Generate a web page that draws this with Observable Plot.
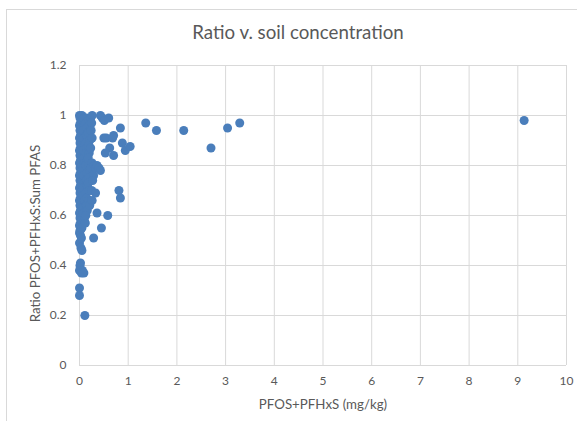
<!DOCTYPE html>
<html>
<head>
<meta charset="utf-8">
<script src="https://cdn.jsdelivr.net/npm/d3@7"></script>
<script src="https://cdn.jsdelivr.net/npm/@observablehq/plot@0.6"></script>
<style>
  html, body { margin: 0; padding: 0; background: #fff; }
  #wrap { position: relative; width: 577px; height: 421px; overflow: hidden; font-family: Lato, "Open Sans", sans-serif; }
  #frame { position: absolute; left: 6px; top: 9px; width: 600px; height: 450px; border: 1px solid #d9d9d9; box-sizing: border-box; }
  #title { position: absolute; left: 0; width: 596px; top: 21px; text-align: center; font-size: 18.7px; color: #595959; }
  #chart { position: absolute; left: 0; top: 0; }
</style>
</head>
<body>
<div id="wrap">
  <div id="frame"></div>
  <div id="chart"></div>
  <div id="title">Ratio v. soil concentration</div>
</div>
<script>
// PFOS+PFHxS (mg/kg)
const concentration = [
  0.00,0.01,0.02,0.00,0.01,0.02,0.00,0.01,0.02,0.00,0.01,0.02,0.00,0.01,0.02,0.00,0.01,0.02,0.00,0.01,
  0.02,0.00,0.01,0.02,0.00,0.01,0.02,0.00,0.01,0.00,0.02,0.00,0.03,0.02,0.01,0.00,0.00,0.00,
  0.05,0.06,0.04,0.05,0.06,0.04,0.05,0.06,0.04,0.05,0.06,0.04,0.05,0.06,0.04,0.05,0.06,0.04,0.05,0.04,
  0.05,0.06,0.04,
  0.09,0.10,0.08,0.09,0.10,0.08,0.09,0.10,0.08,0.09,0.10,0.08,0.09,0.10,0.08,0.09,0.10,0.12,0.09,0.11,
  0.14,0.13,0.15,0.14,0.13,0.15,0.14,0.16,0.13,0.15,0.14,0.16,0.13,0.15,0.14,0.16,0.13,
  0.19,0.20,0.18,0.21,0.19,0.20,0.18,0.19,0.21,0.19,0.18,0.20,0.19,0.21,
  0.23,0.26,0.25,0.24,0.26,0.23,0.26,0.24,0.29,0.27,0.26,0.25,
  0.30,0.33,0.36,0.40,0.43,0.29,0.33,0.36,0.45,0.58,0.81,0.84,
  0.43,0.47,0.51,0.60,0.50,0.55,0.70,0.68,0.62,0.53,0.70,0.84,0.88,0.94,1.04,
  1.36,1.58,2.14,2.70,3.04,3.29,9.13
];
// Ratio PFOS+PFHxS : Sum PFAS
const ratio = [
  1.00,0.99,0.97,0.96,0.94,0.92,0.91,0.89,0.87,0.86,0.84,0.82,0.81,0.79,0.77,0.76,0.74,0.72,0.71,0.69,
  0.67,0.66,0.64,0.62,0.61,0.59,0.57,0.56,0.54,0.53,0.52,0.49,0.47,0.41,0.40,0.38,0.31,0.28,
  1.00,0.98,0.95,0.93,0.90,0.88,0.85,0.83,0.80,0.78,0.75,0.73,0.70,0.68,0.65,0.63,0.60,0.58,0.55,0.51,
  0.46,0.38,0.37,
  0.99,0.96,0.94,0.91,0.88,0.86,0.83,0.81,0.79,0.76,0.73,0.71,0.68,0.66,0.63,0.61,0.58,0.57,0.37,0.20,
  0.99,0.97,0.95,0.92,0.89,0.87,0.85,0.82,0.80,0.77,0.74,0.72,0.69,0.67,0.64,0.62,0.60,
  0.98,0.96,0.93,0.90,0.88,0.85,0.83,0.80,0.78,0.75,0.73,0.70,0.66,0.64,
  0.99,1.00,0.97,0.94,0.91,0.87,0.81,0.79,0.76,0.74,0.66,0.70,
  0.80,0.79,0.80,0.79,0.78,0.51,0.69,0.61,0.55,0.60,0.70,0.67,
  1.00,0.99,0.98,0.99,0.91,0.91,0.92,0.91,0.87,0.85,0.84,0.95,0.89,0.86,0.876,
  0.97,0.94,0.94,0.87,0.95,0.97,0.98
];
const xTicks = [0,1,2,3,4,5,6,7,8,9,10];
const yTicks = [0,0.2,0.4,0.6,0.8,1,1.2];

const data = concentration.map((c, i) => ({x: c, y: ratio[i]}));

const chart = Plot.plot({
  width: 577,
  height: 421,
  marginLeft: 79,
  marginRight: 11,
  marginTop: 65,
  marginBottom: 56,
  style: {fontFamily: "Lato, 'Open Sans', sans-serif", fontSize: "12px", color: "#595959", background: "transparent", overflow: "visible"},
  x: {domain: [0, 10]},
  y: {domain: [0, 1.2]},
  marks: [
    Plot.gridX(xTicks, {stroke: "#d9d9d9", strokeOpacity: 1, strokeWidth: 1}),
    Plot.gridY(yTicks, {stroke: "#d9d9d9", strokeOpacity: 1, strokeWidth: 1}),
    Plot.axisX(xTicks, {tickSize: 0, tickPadding: 11, tickFormat: d => String(d), fill: "#595959", label: null}),
    Plot.axisY(yTicks, {tickSize: 0, tickPadding: 13, tickFormat: d => String(+d.toFixed(1)), fill: "#595959", label: null}),
    Plot.dot(data, {x: "x", y: "y", r: 4.5, fill: "#4a7ebb", stroke: "none"}),
    Plot.text(["PFOS+PFHxS (mg/kg)"], {frameAnchor: "bottom", dy: 43, text: d => d, fontSize: 13.3, fill: "#595959"}),
    Plot.text(["Ratio PFOS+PFHxS:Sum PFAS"], {frameAnchor: "left", textAnchor: "middle", dx: -44, dy: 18, rotate: -90, text: d => d, fontSize: 13.3, fill: "#595959"})
  ]
});
document.getElementById("chart").appendChild(chart);
</script>
</body>
</html>
